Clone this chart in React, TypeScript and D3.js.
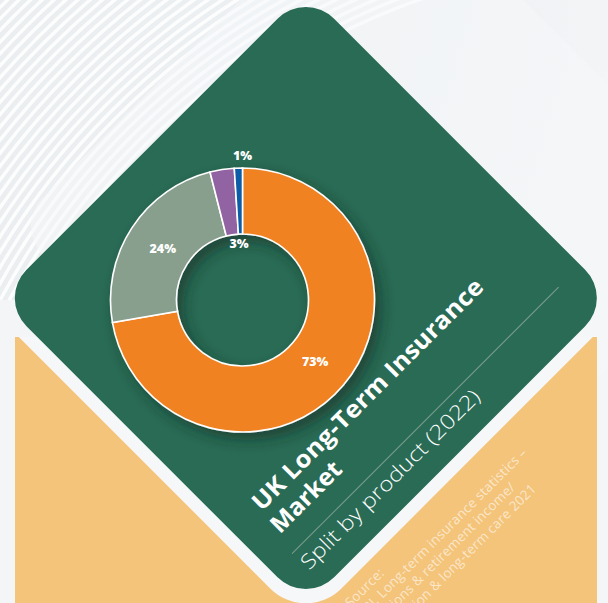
import React from 'react';
import * as d3 from 'd3';

// ---- data ----
const categories = ['Pensions & retirement income', 'Protection', 'Long-term care', 'Other'];
const values = [73, 24, 3, 1];
const valueLabels = ['73%', '24%', '3%', '1%'];
const sliceColors = ['#F08224', '#879F8C', '#9264A2', '#0E5BA8'];
const titleLines = ['UK Long-Term Insurance', 'Market'];
const subtitle = 'Split by product (2022)';
const sourceLines = [
  'Source:',
  'ABI, Long-term insurance statistics –',
  'pensions & retirement income/',
  'protection & long-term care 2021',
];

export default function App() {
  const W = 608;
  const H = 603;
  const cx = 242.5;
  const cy = 300;
  const rOut = 132;
  const rIn = 66;

  const pie = d3.pie<number>().sort(null).value((d) => d);
  const arcs = pie(values);
  const arcGen = d3.arc<d3.PieArcDatum<number>>().innerRadius(rIn).outerRadius(rOut);

  const labelPos = (a: d3.PieArcDatum<number>, i: number): [number, number] => {
    let ang: number;
    let r: number;
    if (i < 2) {
      ang = (a.startAngle + a.endAngle) / 2;
      r = 95;
    } else if (i === 2) {
      ang = a.endAngle;
      r = rIn - 9;
    } else {
      ang = a.endAngle;
      r = rOut + 13;
    }
    return [Math.sin(ang) * r, -Math.cos(ang) * r];
  };

  const stripeRadii = d3.range(690, 960, 8);

  const font = "'Open Sans', 'Noto Sans', sans-serif";

  return (
    <svg
      width={W}
      height={H}
      viewBox={`0 0 ${W} ${H}`}
      style={{ position: 'absolute', left: 0, top: 0, display: 'block' }}
    >
      <defs>
        <linearGradient id="bg" x1="0" y1="0" x2="1" y2="0.3">
          <stop offset="0" stopColor="#EBEEF0" />
          <stop offset="0.6" stopColor="#EEF1F3" />
          <stop offset="1" stopColor="#F3F5F7" />
        </linearGradient>
        <clipPath id="stripeClip">
          <rect x={0} y={0} width={W} height={300} />
        </clipPath>
        <clipPath id="bandClip">
          <rect x={15} y={337} width={582} height={H - 337} />
        </clipPath>
        <filter id="donutShadow" x="-30%" y="-30%" width="160%" height="160%">
          <feDropShadow dx="6" dy="7" stdDeviation="7" floodColor="#0B2A20" floodOpacity="0.55" />
        </filter>
      </defs>

      {/* background */}
      <rect x={0} y={0} width={W} height={H} fill="url(#bg)" />
      <rect x={0} y={300} width={W} height={H - 300} fill="#F3F5F7" />
      <g clipPath="url(#stripeClip)">
        {stripeRadii.map((r) => (
          <circle key={r} cx={650} cy={650} r={r} fill="none" stroke="#FFFFFF" strokeWidth={3.4} opacity={0.85} />
        ))}
      </g>
      {/* faint lighter diamond behind, top right */}
      <g transform="rotate(-45)" opacity={0.5}>
        <rect x={-150} y={170} width={520} height={520} rx={40} fill="#F6F8F9" />
      </g>

      {/* orange block */}
      <rect x={15} y={337} width={582} height={H - 337} fill="#F4C47A" />

      {/* light band around the diamond, visible over the orange block */}
      <g clipPath="url(#bandClip)">
        <g transform="rotate(-45)">
          <rect x={-212 - 13} y={209.5 - 13} width={435 + 26} height={435 + 26} rx={50} fill="#F5F7F9" />
        </g>
      </g>

      {/* green diamond */}
      <g transform="rotate(-45)">
        <rect x={-212} y={209.5} width={435} height={435} rx={40} fill="#296B55" />
      </g>

      {/* donut */}
      <g transform={`translate(${cx},${cy})`}>
        <g filter="url(#donutShadow)">
          {arcs.map((a, i) => (
            <path key={categories[i]} d={arcGen(a) || ''} fill={sliceColors[i]} stroke="#FFFFFF" strokeWidth={1.6} />
          ))}
        </g>
        {arcs.map((a, i) => {
          const [x, y] = labelPos(a, i);
          return (
            <text
              key={'l' + i}
              x={x}
              y={y}
              textAnchor="middle"
              dominantBaseline="central"
              fill="#FFFFFF"
              fontFamily={font}
              fontWeight={800}
              fontSize={12.5}
            >
              {valueLabels[i]}
            </text>
          );
        })}
      </g>

      {/* rotated texts */}
      <g transform="rotate(-45)">
        <text x={-177} y={547} fill="#FFFFFF" fontFamily={font} fontWeight={700} fontSize={24} textLength={316} lengthAdjust="spacingAndGlyphs">
          {titleLines[0]}
        </text>
        <text x={-180} y={576} fill="#FFFFFF" fontFamily={font} fontWeight={700} fontSize={24} textLength={90} lengthAdjust="spacingAndGlyphs">
          {titleLines[1]}
        </text>
        <line x1={-185} y1={598} x2={192} y2={598} stroke="#93AA9D" strokeWidth={1} opacity={0.8} />
        <text x={-185} y={622} fill="#FFFFFF" fontFamily={font} fontWeight={300} fontSize={20.5} textLength={244} lengthAdjust="spacingAndGlyphs">
          {subtitle}
        </text>
        {sourceLines.map((s, i) => (
          <text key={'s' + i} x={-182} y={678 + i * 16} fill="#FFFFFF" fillOpacity={0.6} fontFamily={font} fontWeight={400} fontSize={13.5} letterSpacing={0.2}>
            {s}
          </text>
        ))}
      </g>
    </svg>
  );
}
